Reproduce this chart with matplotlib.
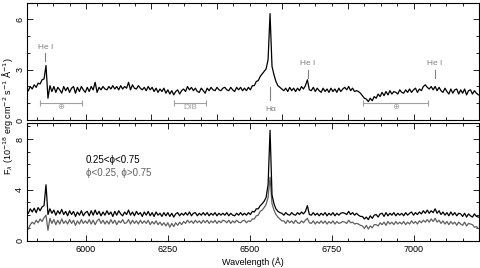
# spectrum of the system: top = mean spectrum, bottom = split by orbital phase
import numpy as np
import matplotlib.pyplot as plt

# wavelength sampling of the spectra (Angstrom, 6 A steps)
wave = np.arange(5824, 7199, 6)

# mean spectrum (top panel), flux in 1e-18 erg cm-2 s-1 A-1
flux_mean = [
    1.75, 2.00, 1.85, 2.10, 1.95, 2.20, 2.15, 2.40, 2.45, 3.25,
    1.30, 2.05, 1.70, 2.00, 1.65, 1.95, 1.80, 1.60, 2.00, 1.75,
    1.95, 1.65, 1.90, 2.00, 1.60, 1.95, 1.70, 2.00, 1.80, 1.65,
    1.95, 1.70, 2.00, 1.80, 2.25, 1.65, 1.95, 1.80, 2.00, 1.85,
    1.80, 2.00, 1.85, 2.05, 1.85, 2.00, 1.80, 2.05, 1.85, 2.00,
    1.90, 2.25, 1.80, 2.10, 1.90, 1.85, 2.05, 1.90, 1.80, 1.95,
    1.75, 2.00, 1.80, 1.95, 1.70, 1.90, 1.65, 1.85, 1.70, 1.90,
    1.60, 1.80, 1.55, 1.75, 1.50, 1.70, 1.80, 1.55, 1.75, 1.85,
    1.70, 2.00, 1.80, 1.95, 1.75, 1.90, 1.70, 1.65, 1.90, 1.75,
    1.60, 1.90, 1.75, 1.95, 1.80, 1.75, 1.95, 1.80, 1.75, 1.90,
    1.95, 1.80, 1.75, 1.95, 1.80, 1.70, 1.95, 1.80, 1.95, 1.75,
    1.90, 1.75, 1.95, 1.80, 2.05, 2.05, 2.30, 2.35, 2.60, 2.75,
    2.90, 3.05, 3.60, 6.35, 3.20, 2.70, 2.30, 2.05, 1.95, 1.85,
    1.75, 1.90, 1.70, 1.95, 1.75, 1.90, 1.70, 1.90, 1.75, 2.00,
    1.85, 2.05, 2.40, 1.80, 1.75, 1.95, 1.70, 1.90, 1.75, 1.65,
    1.90, 1.70, 1.85, 1.65, 1.90, 1.70, 1.85, 1.65, 1.90, 1.70,
    1.85, 1.95, 1.80, 2.00, 1.75, 1.90, 1.70, 1.75, 1.70, 1.60,
    1.45, 1.30, 1.25, 1.10, 1.30, 1.15, 1.40, 1.30, 1.55, 1.40,
    1.65, 1.45, 1.70, 1.50, 1.75, 1.55, 1.70, 1.65, 1.55, 1.80,
    1.65, 1.60, 1.80, 1.65, 1.85, 1.65, 1.80, 1.90, 1.65, 1.85,
    1.75, 2.00, 2.10, 1.95, 1.85, 2.00, 1.80, 2.00, 1.75, 1.95,
    1.75, 1.65, 1.90, 1.70, 1.55, 1.85, 1.60, 1.80, 1.85, 1.55,
    1.80, 1.60, 1.85, 1.50, 1.75, 1.80, 1.55, 1.75, 1.60, 1.50,
]

# phase 0.25-0.75 (bottom panel, black)
flux_mid = [
    2.15, 2.50, 2.25, 2.55, 2.20, 2.60, 2.35, 2.65, 2.75, 4.40,
    2.05, 2.50, 2.15, 2.40, 2.00, 2.35, 2.10, 2.45, 2.05, 2.30,
    1.95, 2.35, 2.05, 2.30, 1.90, 2.25, 2.00, 2.35, 1.95, 2.20,
    2.30, 1.95, 2.35, 2.00, 2.40, 2.05, 2.30, 1.95, 2.25, 2.00,
    2.35, 2.05, 2.25, 1.90, 2.30, 2.00, 2.35, 2.10, 1.95, 2.25,
    2.05, 2.40, 2.00, 2.25, 1.95, 2.30, 2.05, 2.20, 1.90, 2.25,
    2.00, 2.30, 1.95, 2.20, 1.90, 2.25, 2.00, 2.15, 1.90, 2.20,
    1.95, 2.20, 1.90, 2.15, 1.85, 2.10, 2.20, 1.95, 2.15, 2.00,
    2.20, 2.00, 2.25, 1.95, 2.15, 2.20, 1.95, 2.15, 2.00, 2.20,
    2.00, 2.20, 1.95, 2.15, 2.00, 2.20, 1.95, 2.15, 2.00, 2.15,
    2.00, 2.20, 1.95, 2.15, 2.00, 1.95, 2.15, 2.00, 2.20, 2.00,
    2.15, 2.00, 2.20, 2.05, 2.30, 2.25, 2.50, 2.50, 2.75, 2.90,
    3.10, 3.40, 4.40, 8.70, 3.60, 2.90, 2.50, 2.30, 2.20, 2.15,
    2.00, 2.20, 2.05, 2.00, 2.20, 2.05, 2.00, 2.20, 2.05, 2.25,
    2.10, 2.30, 2.75, 2.05, 2.00, 2.20, 2.00, 2.15, 1.95, 2.15,
    2.00, 2.20, 1.95, 2.15, 2.00, 2.20, 1.95, 2.15, 2.00, 2.15,
    2.20, 2.15, 2.05, 2.30, 2.05, 2.20, 2.00, 2.15, 2.00, 1.90,
    1.90, 1.70, 1.85, 1.65, 1.95, 1.75, 2.00, 2.05, 1.85, 2.10,
    2.15, 1.90, 2.20, 1.95, 2.15, 2.00, 2.20, 1.95, 2.15, 2.00,
    2.15, 1.95, 2.20, 2.00, 2.15, 2.25, 2.00, 2.20, 2.05, 2.25,
    2.10, 2.35, 2.15, 2.40, 2.15, 2.35, 2.20, 2.50, 2.15, 2.35,
    2.05, 2.25, 2.00, 2.20, 1.95, 2.25, 2.00, 2.20, 1.95, 2.15,
    2.10, 1.90, 2.15, 1.85, 2.10, 1.95, 1.85, 2.10, 1.90, 1.85,
]

# phase <0.25 or >0.75 (bottom panel, grey)
flux_out = [
    0.90, 1.25, 1.45, 1.30, 1.60, 1.40, 1.70, 1.50, 1.80, 2.00,
    0.80, 1.75, 1.35, 1.65, 1.25, 1.60, 1.30, 1.70, 1.35, 1.55,
    1.30, 1.65, 1.35, 1.60, 1.20, 1.55, 1.30, 1.65, 1.35, 1.55,
    1.35, 1.65, 1.30, 1.60, 1.25, 1.55, 1.70, 1.35, 1.60, 1.30,
    1.55, 1.30, 1.65, 1.35, 1.60, 1.25, 1.55, 1.40, 1.65, 1.35,
    1.40, 1.65, 1.30, 1.60, 1.35, 1.55, 1.30, 1.60, 1.35, 1.55,
    1.35, 1.60, 1.25, 1.50, 1.30, 1.55, 1.25, 1.45, 1.20, 1.40,
    1.15, 1.40, 1.05, 1.35, 1.10, 1.40, 1.20, 1.45, 1.25, 1.50,
    1.35, 1.60, 1.40, 1.55, 1.35, 1.60, 1.40, 1.55, 1.35, 1.60,
    1.40, 1.60, 1.35, 1.55, 1.40, 1.60, 1.35, 1.55, 1.40, 1.60,
    1.55, 1.40, 1.60, 1.35, 1.55, 1.40, 1.60, 1.45, 1.40, 1.55,
    1.60, 1.40, 1.55, 1.50, 1.70, 1.70, 1.95, 2.00, 2.30, 2.40,
    2.60, 2.85, 3.40, 5.00, 2.90, 2.40, 2.05, 1.85, 1.70, 1.55,
    1.55, 1.35, 1.60, 1.40, 1.55, 1.35, 1.60, 1.40, 1.35, 1.55,
    1.40, 1.60, 1.75, 1.40, 1.35, 1.55, 1.30, 1.50, 1.35, 1.55,
    1.35, 1.55, 1.30, 1.50, 1.35, 1.55, 1.30, 1.50, 1.35, 1.40,
    1.50, 1.45, 1.35, 1.60, 1.40, 1.45, 1.30, 1.35, 1.30, 1.20,
    1.15, 0.95, 1.20, 0.90, 1.15, 1.00, 1.25, 1.25, 1.15, 1.40,
    1.25, 1.45, 1.20, 1.50, 1.30, 1.45, 1.25, 1.50, 1.30, 1.45,
    1.30, 1.50, 1.25, 1.45, 1.30, 1.55, 1.35, 1.50, 1.30, 1.55,
    1.40, 1.60, 1.45, 1.65, 1.45, 1.70, 1.50, 1.75, 1.45, 1.60,
    1.35, 1.55, 1.30, 1.50, 1.25, 1.50, 1.30, 1.45, 1.20, 1.45,
    1.30, 1.20, 1.45, 1.15, 1.35, 1.30, 1.25, 1.05, 1.10, 0.95,
]

# line identifications: label, wavelength
line_names = ['He I', 'H\u03b1', 'He I', 'He I']
line_waves = [5876, 6563, 6678, 7065]

# telluric / interstellar bands: label, start, end
band_names = ['\u2295', 'DIB', '\u2295']
band_start = [5860, 6268, 6846]
band_end = [5988, 6367, 7044]

grey = '#808080'
plt.rcParams['font.family'] = ['Liberation Sans', 'DejaVu Sans']
plt.rcParams['font.size'] = 6.5

fig = plt.figure(figsize=(4.8, 2.68), dpi=100)
ax1 = fig.add_axes([0.05625, 0.5522, 0.9417, 0.4377])
ax2 = fig.add_axes([0.05625, 0.1026, 0.9417, 0.4396])

# top panel
ax1.plot(wave, flux_mean, color='k', lw=0.9)
ax1.set_ylim(0, 7)
ax1.set_yticks([0, 3, 6])
ax1.set_yticks([1, 2, 4, 5], minor=True)
ax1.set_xticklabels([])

# line markers: (text y, tick bottom, tick top) differ per line
for name, w in zip(line_names, line_waves):
    if name.startswith('H\u03b1'):
        ax1.plot([w, w], [1.2, 1.95], color=grey, lw=0.8)
        ax1.text(w, 0.65, name, color=grey, ha='center', va='center', fontsize=6)
    elif w < 6000:
        ax1.plot([w, w], [3.5, 4.0], color=grey, lw=0.8)
        ax1.text(w, 4.35, name, color=grey, ha='center', va='center', fontsize=6)
    else:
        ax1.plot([w, w], [2.5, 2.98], color=grey, lw=0.8)
        ax1.text(w, 3.4, name, color=grey, ha='center', va='center', fontsize=6)

for name, a, b in zip(band_names, band_start, band_end):
    mid = 0.5 * (a + b)
    ax1.errorbar(mid, 1.0, xerr=0.5 * (b - a), color='#a0a0a0', lw=0.8,
                 capsize=2, capthick=0.8)
    ax1.text(mid, 0.72, name, color='#a0a0a0', ha='center', va='center', fontsize=6)

# bottom panel
ax2.plot(wave, flux_out, color='#606060', lw=0.9)
ax2.plot(wave, flux_mid, color='k', lw=0.9)
ax2.set_ylim(0, 9.3)
ax2.set_yticks([0, 4, 8])
ax2.set_yticks([1, 2, 3, 5, 6, 7, 9], minor=True)
ax2.set_xticks([6000, 6250, 6500, 6750, 7000])
ax2.text(6000, 6.35, '0.25<\u03d5<0.75', color='k', ha='left', va='center', fontsize=7)
ax2.text(6000, 5.3, '\u03d5<0.25, \u03d5>0.75', color='#606060', ha='left', va='center', fontsize=7)
ax2.set_xlabel('Wavelength (\u00c5)', labelpad=2)

for ax in (ax1, ax2):
    ax.set_xlim(5820, 7200)
    ax.set_xticks(np.arange(5850, 7200, 50), minor=True)
    ax.tick_params(which='both', direction='in', top=True, right=True, width=0.6)
    ax.tick_params(which='major', length=4)
    ax.tick_params(which='minor', length=2)
    ax.tick_params(axis='y', labelrotation=90, pad=2)
    for lab in ax.get_yticklabels():
        lab.set_va('center')
    for s in ax.spines.values():
        s.set_linewidth(0.8)

fig.text(0.015, 0.567,
         r'F$_\lambda$ (10$^{-18}$ erg cm$^{-2}$ s$^{-1}$ $\mathrm{\AA}^{-1}$)',
         rotation=90, ha='center', va='center', fontsize=6.5)

plt.savefig('out.png', dpi=100)
